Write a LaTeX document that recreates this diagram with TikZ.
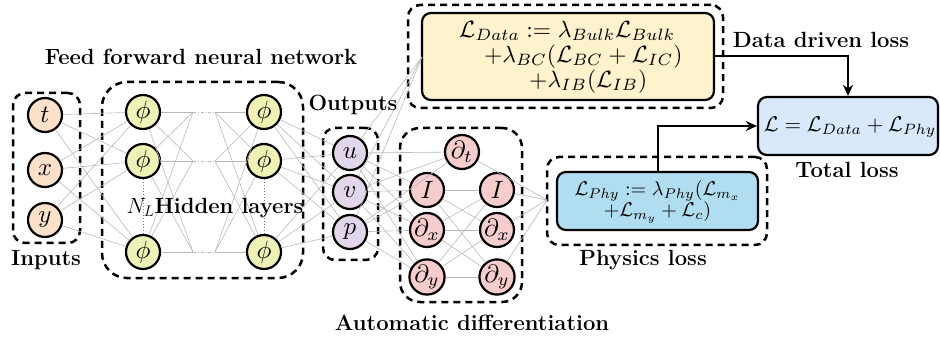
\RequirePackage{fix-cm}
\documentclass[tikz,border=0pt]{standalone}
\usepackage{amsmath}
\usepackage{graphicx}
\usetikzlibrary{arrows.meta}
\definecolor{inC}{HTML}{FCE0C8}
\definecolor{phiC}{HTML}{EEF2B4}
\definecolor{outC}{HTML}{E2D6EA}
\definecolor{adC}{HTML}{F6CCCC}
\definecolor{dataC}{HTML}{FFF2CC}
\definecolor{phyC}{HTML}{B1DDF0}
\definecolor{totC}{HTML}{DAE8FC}
\newcommand{\lblfnt}{\fontsize{22}{26}\selectfont\bfseries}
\newcommand{\nmath}[1]{\scalebox{2.5}{$#1$}}
\begin{document}
\begin{tikzpicture}[x=1pt,y=-1pt,
  neuron/.style={circle, draw=black, line width=2.2pt, minimum size=34pt, inner sep=0pt, font=\normalsize},
  dashbox/.style={draw=black, line width=2.5pt, dash pattern=on 7pt off 5pt, rounded corners=12pt, inner sep=0pt},
  lossbox/.style={draw=black, line width=2.2pt, rounded corners=9pt, inner sep=0pt},
  conn/.style={draw=black!28, line width=0.6pt},
  lbl/.style={font=\lblfnt, inner sep=0pt},
  flow/.style={-{Stealth[length=11pt,width=10pt]}, line width=2pt}]
\useasboundingbox (0,0) rectangle (940,339);
% dashed group boxes
\node[dashbox, minimum width=67pt, minimum height=150pt] (inbox) at (46.5,168) {};
\node[dashbox, rounded corners=25pt, minimum width=201pt, minimum height=196pt] (hidbox) at (202.5,180) {};
\node[dashbox, minimum width=55pt, minimum height=132pt] (outbox) at (350.5,194) {};
\node[dashbox, rounded corners=20pt, minimum width=122pt, minimum height=174pt] (adbox) at (461,215) {};
\node[dashbox, minimum width=315pt, minimum height=103pt] (databox) at (565.5,56.5) {};
\node[dashbox, minimum width=220pt, minimum height=88pt] (phybox) at (657,201) {};
% loss boxes
\node[lossbox, fill=dataC, minimum width=292pt, minimum height=87pt] (datab) at (568,56.5) {};
\node[lossbox, fill=phyC, minimum width=201pt, minimum height=58pt] (phyb) at (657.5,201) {};
\node[lossbox, fill=totC, minimum width=180pt, minimum height=58pt] (totb) at (848,126) {};
\node[anchor=west, inner sep=0pt, font=\normalsize] (datatxt) at (459,57)
  {\scalebox{2.35}{\vbox{\baselineskip=10.6pt\lineskiplimit=-20pt
   \hbox{$\mathcal{L}_{Data} := \lambda_{Bulk}\mathcal{L}_{Bulk}$}
   \hbox{\kern10.6pt$+\lambda_{BC}(\mathcal{L}_{BC}+\mathcal{L}_{IC})$}
   \hbox{\kern29.8pt$+\lambda_{IB}(\mathcal{L}_{IB})$}}}};
\node[inner sep=0pt, font=\normalsize] (phytxt) at (657.5,202)
  {\scalebox{2.0}{\vbox{\baselineskip=10.5pt\lineskiplimit=-20pt
   \halign{\hfil#\hfil\cr
   $\mathcal{L}_{Phy} := \lambda_{Phy}(\mathcal{L}_{m_x}$\cr
   $+\mathcal{L}_{m_y}+\mathcal{L}_{c})$\cr}}}};
\node[inner sep=0pt, font=\normalsize] (tottxt) at (850,127)
  {\scalebox{2.13}{$\mathcal{L}=\mathcal{L}_{Data}+\mathcal{L}_{Phy}$}};
% neurons
\node[neuron, fill=inC] (it) at (45,115) {\nmath{t}};
\node[neuron, fill=inC] (ix) at (45,170) {\nmath{x}};
\node[neuron, fill=inC] (iy) at (45,220) {\nmath{y}};
\foreach \n/\yy in {1/112,2/161,3/252}{
  \node[neuron, fill=phiC] (ha\n) at (143,\yy) {\nmath{\phi}};
  \node[neuron, fill=phiC] (hb\n) at (264,\yy) {\nmath{\phi}};
  \coordinate (ma\n) at (193,\yy);
  \coordinate (mb\n) at (215,\yy);
}
\node[neuron, fill=outC] (ou) at (350,153) {\nmath{u}};
\node[neuron, fill=outC] (ov) at (350,192) {\nmath{v}};
\node[neuron, fill=outC] (op) at (350,232) {\nmath{p}};
\node[neuron, fill=adC] (dt) at (462,152) {\nmath{\partial_t}};
\node[neuron, fill=adC] (ai1) at (427,190) {\nmath{I}};
\node[neuron, fill=adC] (ax1) at (427,230) {\nmath{\partial_x}};
\node[neuron, fill=adC] (ay1) at (427,277) {\nmath{\partial_y}};
\node[neuron, fill=adC] (ai2) at (497,190) {\nmath{I}};
\node[neuron, fill=adC] (ax2) at (497,230) {\nmath{\partial_x}};
\node[neuron, fill=adC] (ay2) at (497,277) {\nmath{\partial_y}};
\coordinate (dpt) at (422,57);
\coordinate (ppt) at (547,200);
% connectors
\foreach \a in {it,ix,iy}{\foreach \b in {ha1,ha2,ha3}{\draw[conn] (\a) -- (\b);}}
\foreach \a in {ha1,ha2,ha3}{\foreach \b in {ma1,ma2,ma3}{\draw[conn] (\a) -- (\b);}}
\foreach \n in {1,2,3}{\draw[conn, dash dot] (ma\n) -- (mb\n);}
\foreach \a in {mb1,mb2,mb3}{\foreach \b in {hb1,hb2,hb3}{\draw[conn] (\a) -- (\b);}}
\foreach \a in {hb1,hb2,hb3}{\foreach \b in {ou,ov,op}{\draw[conn] (\a) -- (\b);}}
\foreach \a in {ou,ov,op}{\draw[conn] (\a) -- (dpt);
  \foreach \b in {dt,ai1,ax1,ay1}{\draw[conn] (\a) -- (\b);}}
\foreach \a in {ai1,ax1,ay1}{\foreach \b in {ai2,ax2,ay2}{\draw[conn] (\a) -- (\b);}}
\foreach \a in {dt,ai2,ax2,ay2}{\draw[conn] (\a) -- (ppt);}
\draw[black!55, dotted, line width=1pt] (ha2) -- (ha3);
\draw[black!55, dotted, line width=1pt] (hb2) -- (hb3);
% flow arrows
\draw[flow] (datab.east) -| (totb.north);
\draw[flow] (phyb.north) |- (totb.west);
% labels
\node[lbl] (linputs) at (46,260) {Inputs};
\node[lbl] (lffnn) at (201,57) {Feed forward neural network};
\node[lbl, font=\fontsize{22}{26}\selectfont] (lhidden) at (215,208) {$N_L$\textbf{Hidden layers}};
\node[lbl] (loutputs) at (353,105) {Outputs};
\node[lbl] (lad) at (472,323) {Automatic differentiation};
\node[lbl] (ldata) at (821,40) {Data driven loss};
\node[lbl] (ltotal) at (847,170) {Total loss};
\node[lbl] (lphys) at (643,260) {Physics loss};
\end{tikzpicture}
\end{document}
